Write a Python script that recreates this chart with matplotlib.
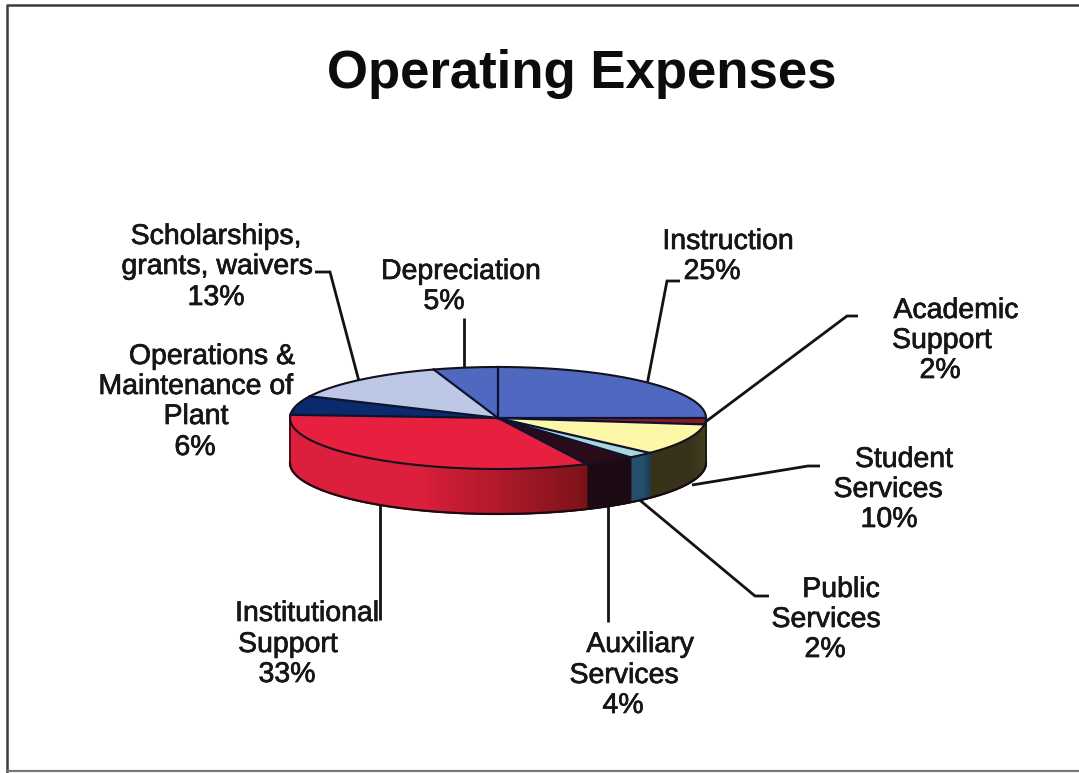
import matplotlib
matplotlib.use("Agg")
import matplotlib.pyplot as plt
import matplotlib.patheffects as pe
import numpy as np

plt.rcParams['font.family'] = ['Liberation Sans', 'DejaVu Sans']

categories = ["Instruction", "Academic\nSupport", "Student\nServices", "Public\nServices",
              "Auxiliary\nServices", "Institutional\nSupport", "Operations &\nMaintenance of\nPlant",
              "Scholarships,\ngrants, waivers", "Depreciation"]
values = [25, 2, 10, 2, 4, 33, 6, 13, 5]

top_colors = ["#4f69c0", "#8a1a22", "#fdf7a8", "#a8d8dc", "#2a0c18", "#e8203f", "#0b2a6e", "#bcc8e6", "#4f69c0"]
side_start = ["#39488a", "#38341c", "#46401f", "#1b3f54", "#1c0a14", "#7c1218", "#0b2a6e", "#8a94b0", "#39488a"]
side_end = ["#39488a", "#38341c", "#38321a", "#24506a", "#1c0a14", "#dc1f3c", "#0b2a6e", "#8a94b0", "#39488a"]

# centre of each text line of each label, in pixels
label_pos = [
    [(728, 242), (712, 272)],
    [(956, 311), (942, 341), (940, 371)],
    [(904, 460), (888, 490), (889, 520)],
    [(841, 590), (826, 620), (825, 650)],
    [(640, 645), (624, 676), (623, 706)],
    [(307, 614), (288, 645), (287, 675)],
    [(212, 357), (196, 387), (196, 417), (195, 448)],
    [(216, 237), (217, 267), (216, 298)],
    [(461, 272), (444, 302)],
]

leaders = [
    [(680, 281), (667, 281), (647, 385)],
    [(858, 316), (847, 316), (700, 426)],
    [(820, 466), (808, 466), (692, 485)],
    [(769, 596), (755, 596), (636, 497)],
    [(608, 622), (608, 500)],
    [(380, 620), (380, 500)],
    [],
    [(315, 272), (330, 272), (360, 385)],
    [(464, 318), (464, 375)],
]

cx, cy, rx, ry, depth = 498, 418, 208, 51, 45


def rim(t):
    return cx + rx * np.cos(t), cy + ry * np.sin(t)


fig = plt.figure(figsize=(10.79, 7.73), dpi=100)
ax = fig.add_axes([0, 0, 1, 1])
ax.set_xlim(0, 1079)
ax.set_ylim(773, 0)
ax.axis('off')

# slice boundaries, clockwise from twelve o'clock (y axis points down)
edges = np.radians(-90 + 3.6 * np.cumsum([0] + values))

# side wall: thin shaded strips along the front half of the rim
for i in range(len(values)):
    a = max(edges[i], 0)
    b = min(edges[i + 1], np.pi)
    if a >= b:
        continue
    ts = np.linspace(a, b, max(int(np.degrees(b - a) * 2), 2))
    c0 = np.array(matplotlib.colors.to_rgb(side_start[i]))
    c1 = np.array(matplotlib.colors.to_rgb(side_end[i]))
    for j in range(len(ts) - 1):
        x0, y0 = rim(ts[j])
        x1, y1 = rim(ts[j + 1])
        f = min(1, 2.4 * j / max(len(ts) - 2, 1))
        c = c0 + (c1 - c0) * f
        ax.fill([x0, x1, x1, x0], [y0, y1, y1 + depth, y0 + depth], color=c, lw=1.2, zorder=2)

# outline of the side wall
t_front = np.linspace(0, np.pi, 200)
xf, yf = rim(t_front)
ax.plot(xf, yf + depth, color="#1a0a10", lw=1.6, zorder=3)
ax.plot([cx + rx, cx + rx], [cy, cy + depth], color="#1a1a10", lw=1.2, zorder=3)
ax.plot([cx - rx, cx - rx], [cy, cy + depth], color="#3a0a10", lw=1.2, zorder=3)

# top face
for i in range(len(values)):
    ts = np.linspace(edges[i], edges[i + 1], 80)
    xs, ys = rim(ts)
    ax.fill(np.r_[cx, xs], np.r_[cy, ys], color=top_colors[i], lw=0, zorder=4)
    ax.plot(xs, ys, color="#15101c", lw=1.5, zorder=5)
for t in edges[:-1]:
    x, y = rim(t)
    ax.plot([cx, x], [cy, y], color="#0d1230", lw=1.6, zorder=5)

for pts in leaders:
    if pts:
        ax.plot([p[0] for p in pts], [p[1] for p in pts], color="#15120f", lw=2.0,
                solid_joinstyle='miter', solid_capstyle='butt', zorder=1)

heavier = [pe.withStroke(linewidth=0.5, foreground="#161616")]
for name, v, pos in zip(categories, values, label_pos):
    lines = name.split("\n") + [f"{v}%"]
    for line, (x, y) in zip(lines, pos):
        ax.text(x, y, line, ha='center', va='center', fontsize=20.5, color="#161616",
                path_effects=heavier, zorder=6)

ax.text(582, 74, "Operating Expenses", ha='center', va='center', fontsize=38,
        fontweight='bold', color="#0c0c0c")

# page border
ax.plot([1079, 7, 7], [5, 5, 773], color="#3c3c3c", lw=1.8, zorder=0)
ax.plot([7, 1079], [771, 771], color="#777777", lw=1.6, zorder=0)

fig.savefig("out.png", dpi=100)
